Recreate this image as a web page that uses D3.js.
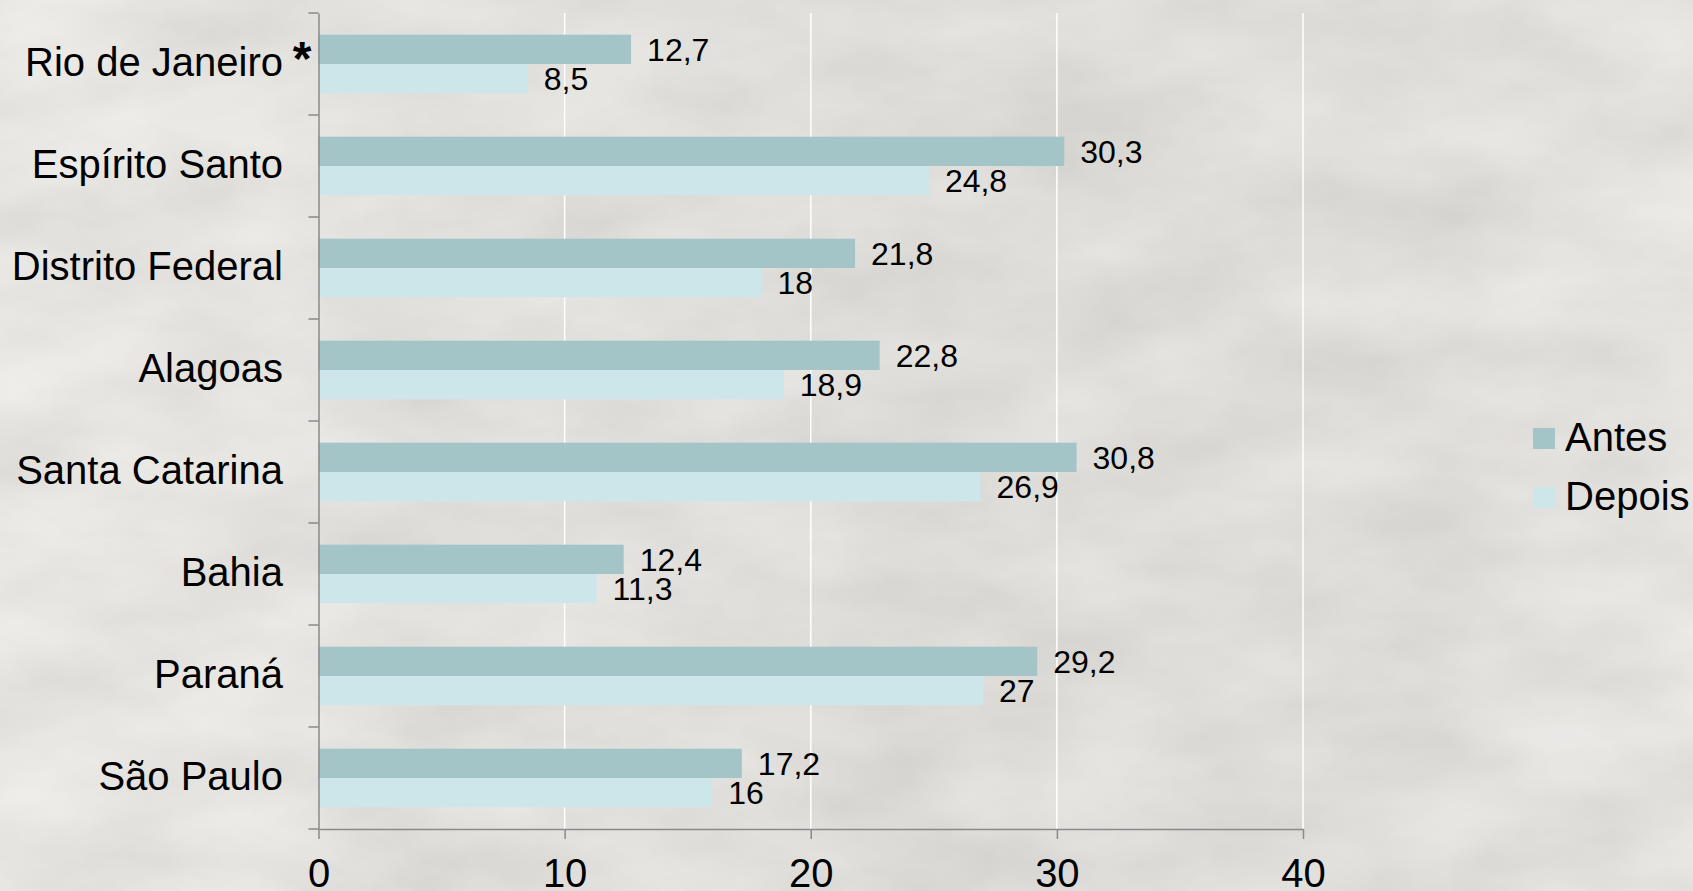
<!DOCTYPE html>
<html>
<head>
<meta charset="utf-8">
<script src="https://cdn.jsdelivr.net/npm/d3@7"></script>
<style>
  body { margin: 0; overflow: hidden; background: #d8d6d1; }
  text { font-family: "Liberation Sans", Arial, sans-serif; fill: #000; }
</style>
</head>
<body>
<script>
//data
var states = ['Rio de Janeiro', 'Espírito Santo', 'Distrito Federal', 'Alagoas',
  'Santa Catarina', 'Bahia', 'Paraná', 'São Paulo'];
var antes = [12.7, 30.3, 21.8, 22.8, 30.8, 12.4, 29.2, 17.2];
var depois = [8.5, 24.8, 18, 18.9, 26.9, 11.3, 27, 16];
var seriesNames = ['Antes', 'Depois'];
var xTicks = [0, 10, 20, 30, 40];
var starred = ['Rio de Janeiro'];

//settings
var W = 1693, H = 891;
var colors = { Antes: '#a3c5c8', Depois: '#cde6ea' };
var plot = { left: 318.5, right: 1303, top: 13, bottom: 829 };

var rows = states.map(function(s, i) {
  return { state: s, Antes: antes[i], Depois: depois[i] };
});

var svg = d3.select('body').append('svg')
  .attr('width', W).attr('height', H);

//background, a grey washed out texture
var defs = svg.append('defs');
var f = defs.append('filter').attr('id', 'grain')
  .attr('x', 0).attr('y', 0).attr('width', '100%').attr('height', '100%');
f.append('feTurbulence').attr('type', 'fractalNoise')
  .attr('baseFrequency', '0.006 0.012').attr('numOctaves', 5).attr('seed', 11);
f.append('feColorMatrix').attr('type', 'matrix')
  .attr('values', '0.5 0 0 0 0.6  0.5 0 0 0 0.59  0.5 0 0 0 0.57  0 0 0 0 1');

var lg = defs.append('linearGradient').attr('id', 'wash')
  .attr('x1', 0).attr('x2', 1).attr('y1', 0).attr('y2', 0);
lg.append('stop').attr('offset', 0).attr('stop-color', '#e4e2de');
lg.append('stop').attr('offset', 0.25).attr('stop-color', '#dcdad5');
lg.append('stop').attr('offset', 0.55).attr('stop-color', '#d4d2cd');
lg.append('stop').attr('offset', 0.8).attr('stop-color', '#d6d4cf');
lg.append('stop').attr('offset', 1).attr('stop-color', '#e0deda');

svg.append('rect').attr('width', W).attr('height', H).attr('fill', 'url(#wash)');
svg.append('rect').attr('width', W).attr('height', H)
  .attr('filter', 'url(#grain)').attr('opacity', 0.4);

//scales
var x = d3.scaleLinear().domain([0, 40]).range([plot.left, plot.right]);
var y = d3.scaleBand().domain(states).range([plot.top, plot.bottom]).paddingInner(0).paddingOuter(0);
var inner = d3.scaleBand().domain(seriesNames)
  .range([y.bandwidth() * 0.2125, y.bandwidth() * 0.7875]);

//gridlines
svg.append('g').selectAll('line')
  .data(xTicks.filter(function(t) { return t > 0; }))
  .enter().append('line')
  .attr('x1', function(d) { return x(d); }).attr('x2', function(d) { return x(d); })
  .attr('y1', plot.top).attr('y2', plot.bottom)
  .attr('stroke', '#ffffff').attr('stroke-width', 1.5);

//bars
var groups = svg.append('g').selectAll('g')
  .data(rows).enter().append('g')
  .attr('transform', function(d) { return 'translate(0,' + y(d.state) + ')'; });

groups.selectAll('rect')
  .data(function(d) { return seriesNames.map(function(k) { return { key: k, value: d[k] }; }); })
  .enter().append('rect')
  .attr('x', x(0))
  .attr('y', function(d) { return inner(d.key); })
  .attr('width', function(d) { return x(d.value) - x(0); })
  .attr('height', inner.bandwidth())
  .attr('fill', function(d) { return colors[d.key]; });

groups.selectAll('text')
  .data(function(d) { return seriesNames.map(function(k) { return { key: k, value: d[k] }; }); })
  .enter().append('text')
  .attr('x', function(d) { return x(d.value) + 16; })
  .attr('y', function(d) { return inner(d.key) + inner.bandwidth() / 2; })
  .attr('dy', '0.36em')
  .style('font-size', '32px')
  .text(function(d) { return String(d.value).replace('.', ','); });

//axes
var axisColor = '#8a8a8a';
var yAxis = svg.append('g')
  .attr('transform', 'translate(' + plot.left + ',0)')
  .call(d3.axisLeft(y).tickSize(0).tickFormat(''));
yAxis.select('.domain').attr('stroke', axisColor).attr('stroke-width', 1.5);

//category ticks sit on band edges
svg.append('g').selectAll('line')
  .data(states.concat(['end']))
  .enter().append('line')
  .attr('x1', plot.left - 10).attr('x2', plot.left)
  .attr('y1', function(d, i) { return plot.top + i * y.step(); })
  .attr('y2', function(d, i) { return plot.top + i * y.step(); })
  .attr('stroke', axisColor).attr('stroke-width', 1.5);

svg.append('g').selectAll('text')
  .data(states).enter().append('text')
  .attr('x', 283)
  .attr('y', function(d) { return y(d) + y.bandwidth() / 2; })
  .attr('dy', '0.3em')
  .attr('text-anchor', 'end')
  .style('font-size', '40px')
  .text(function(d) { return d; });

svg.append('g').selectAll('text')
  .data(starred).enter().append('text')
  .attr('x', 302)
  .attr('y', function(d) { return y(d) + 62; })
  .attr('text-anchor', 'middle')
  .style('font-size', '48px').style('font-weight', 'bold')
  .text('*');

var xAxis = svg.append('g')
  .attr('transform', 'translate(0,' + plot.bottom + ')')
  .call(d3.axisBottom(x).tickValues(xTicks).tickSize(10).tickSizeOuter(0).tickPadding(0));
xAxis.select('.domain').attr('stroke', axisColor).attr('stroke-width', 1.5);
xAxis.selectAll('.tick line').attr('stroke', axisColor).attr('stroke-width', 1.5);
xAxis.selectAll('.tick text')
  .attr('y', 58).attr('dy', null)
  .style('font-size', '40px').style('font-family', '"Liberation Sans", Arial, sans-serif')
  .attr('fill', '#000');

//legend
var legend = svg.append('g').selectAll('g')
  .data(seriesNames).enter().append('g')
  .attr('transform', function(d, i) { return 'translate(1533,' + (428 + i * 59) + ')'; });
legend.append('rect')
  .attr('width', 22).attr('height', 21)
  .attr('fill', function(d) { return colors[d]; });
legend.append('text')
  .attr('x', 32).attr('y', 23)
  .style('font-size', '40px')
  .text(function(d) { return d; });
</script>
</body>
</html>
